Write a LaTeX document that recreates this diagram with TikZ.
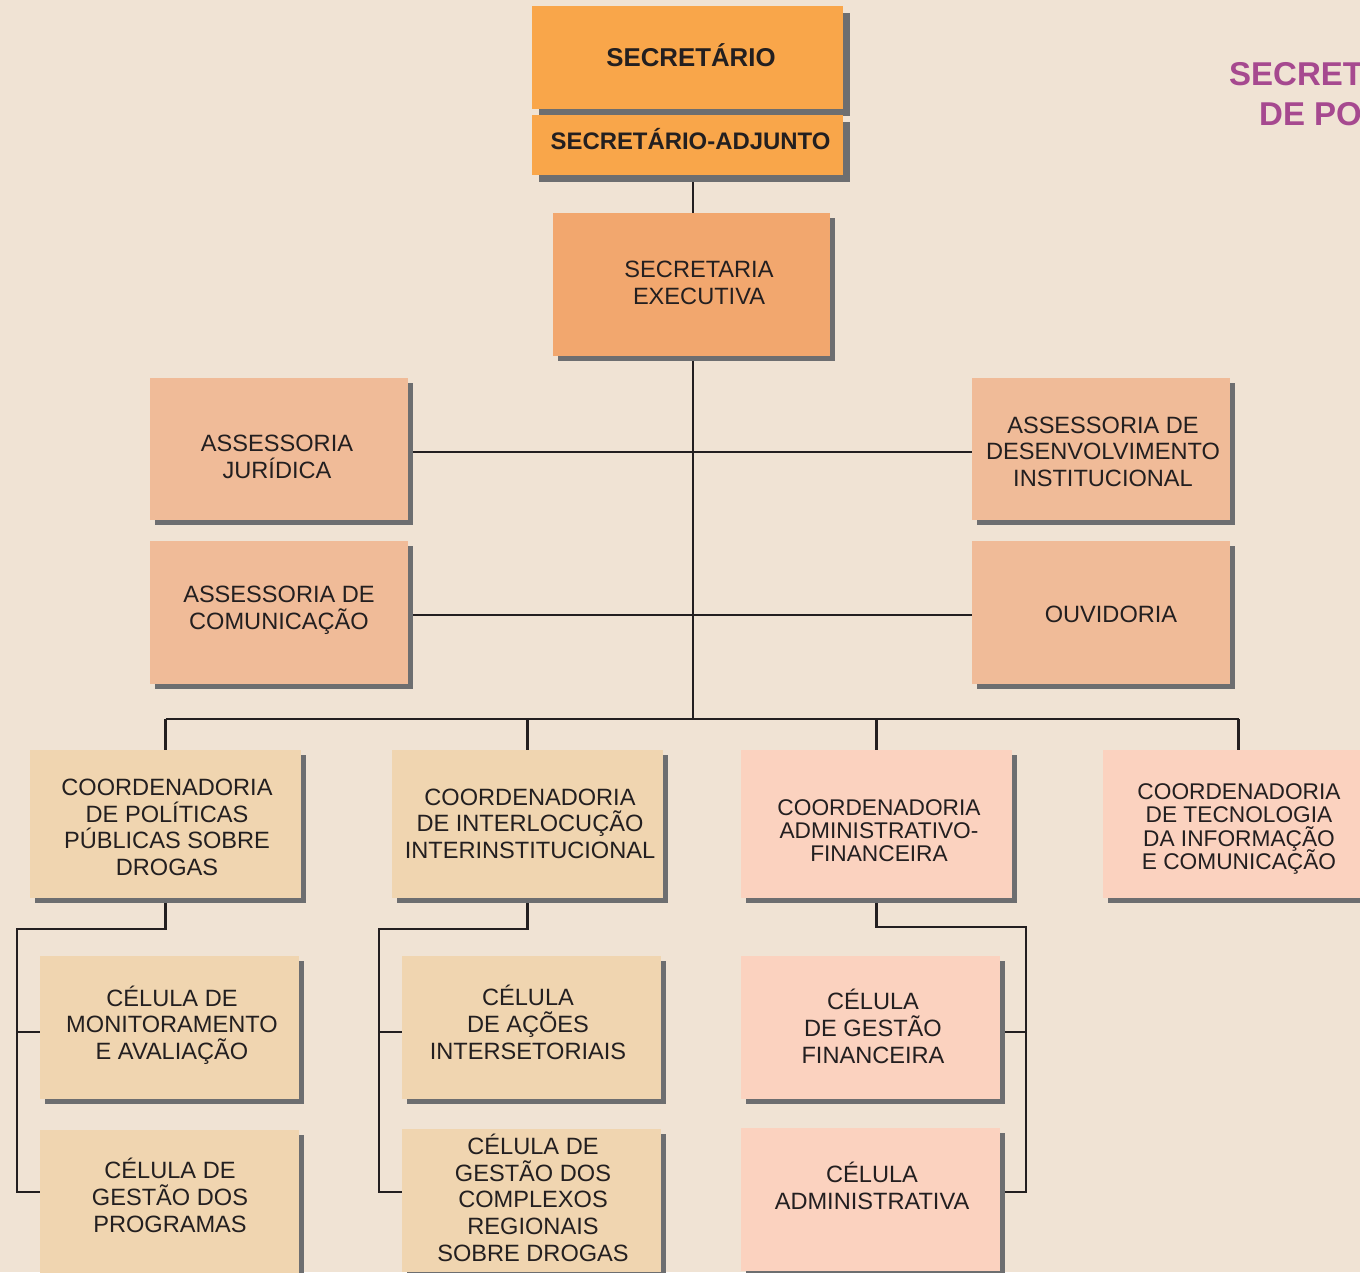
\documentclass[tikz,border=0pt]{standalone}
\usepackage{fontspec}
\setmainfont{Liberation Sans}
\usetikzlibrary{shadows,backgrounds}
\definecolor{bgc}{HTML}{F0E3D4}
\definecolor{topc}{HTML}{F9A64A}
\definecolor{execc}{HTML}{F2A76E}
\definecolor{assc}{HTML}{F0BB98}
\definecolor{beigec}{HTML}{F0D5B0}
\definecolor{pinkc}{HTML}{FBD2BF}
\definecolor{shadec}{HTML}{6D6E70}
\definecolor{linec}{HTML}{231F20}
\definecolor{purplec}{HTML}{A6498F}
\definecolor{textc}{HTML}{231F20}
\newcommand\topst{\rule{0pt}{1.016em}}
\newcommand\botst{\rule[-0.3em]{0pt}{0.3em}}
\newcommand\regfont{\fontsize{23.6}{26.7}\selectfont\lineskiplimit-100pt\relax}
\newcommand\tightfont{\fontsize{22.7}{23.3}\selectfont\lineskiplimit-100pt\relax}
\begin{document}
\begin{tikzpicture}[x=1pt,y=-1pt,
  orgbox/.style={rectangle, inner sep=0pt, anchor=north west, draw=none,
     general shadow={fill=shadec, shadow xshift=5pt, shadow yshift=-5pt}},
  bigshadow/.style={general shadow={fill=shadec, shadow xshift=7pt, shadow yshift=-7pt}},
  regsize/.style={minimum width=258pt, minimum height=143pt},
  coordsize/.style={minimum width=271pt, minimum height=148pt},
  cellsize/.style={minimum width=259pt, minimum height=143pt},
  txt/.style={font=\regfont, align=center, text=textc, inner sep=0pt},
  tighttxt/.style={font=\tightfont, align=center, text=textc, inner sep=0pt},
  boldtxt/.style={align=center, text=textc, inner sep=0pt},
  conn/.style={draw=linec, line width=2.7pt}
]
\useasboundingbox (0,0) rectangle (1360,1272);
\clip (0,0) rectangle (1360,1272);

% top boxes
\node[rectangle, inner sep=0pt, anchor=north west, bigshadow, fill=topc, minimum width=311pt, minimum height=103pt] (sec) at (532,6) {};
\node[rectangle, inner sep=0pt, anchor=north west, bigshadow, fill=topc, minimum width=311pt, minimum height=60pt] (adj) at (532,115) {};
\node[boldtxt, font=\bfseries\fontsize{25.8}{28}\selectfont] (tsec) at (691,57) {\topst SECRETÁRIO\botst};
\node[boldtxt, font=\bfseries\fontsize{23.9}{27}\selectfont] (tadj) at (690.5,141) {\topst SECRETÁRIO-ADJUNTO\botst};

\node[orgbox, fill=execc, minimum width=277pt, minimum height=143pt] (exec) at (553,213) {};
\node[txt] (texec) at (699,282.5) {\topst SECRETARIA\\EXECUTIVA\botst};

% assessorias
\node[orgbox, regsize, fill=assc, minimum height=142pt] (jur) at (150,378) {};
\node[txt] (tjur) at (277,456.5) {\topst ASSESSORIA\\JURÍDICA\botst};
\node[orgbox, regsize, fill=assc] (com) at (150,541) {};
\node[txt] (tcom) at (279,607.5) {\topst ASSESSORIA DE\\COMUNICAÇÃO\botst};
\node[orgbox, regsize, fill=assc, minimum height=142pt] (dev) at (972,378) {};
\node[txt] (tdev) at (1103,451.5) {\topst ASSESSORIA DE\\DESENVOLVIMENTO\\INSTITUCIONAL\botst};
\node[orgbox, regsize, fill=assc] (ouv) at (972,541) {};
\node[txt] (touv) at (1111,614) {\topst OUVIDORIA\botst};

% coordenadorias
\node[orgbox, coordsize, fill=beigec] (c1) at (30,750) {};
\node[txt] (tc1) at (167,827) {\topst COORDENADORIA\\DE POLÍTICAS\\PÚBLICAS SOBRE\\DROGAS\botst};
\node[orgbox, coordsize, fill=beigec] (c2) at (392,750) {};
\node[txt] (tc2) at (530,823.5) {\topst COORDENADORIA\\DE INTERLOCUÇÃO\\INTERINSTITUCIONAL\botst};
\node[orgbox, coordsize, fill=pinkc] (c3) at (741,750) {};
\node[tighttxt] (tc3) at (879,830.5) {\topst COORDENADORIA\\ADMINISTRATIVO-\\FINANCEIRA\botst};
\node[orgbox, coordsize, fill=pinkc] (c4) at (1103,750) {};
\node[tighttxt] (tc4) at (1239,826.5) {\topst COORDENADORIA\\DE TECNOLOGIA\\DA INFORMAÇÃO\\E COMUNICAÇÃO\botst};

% células
\node[orgbox, cellsize, fill=beigec] (m1) at (40,956) {};
\node[txt] (tm1) at (172,1024.5) {\topst CÉLULA DE\\MONITORAMENTO\\E AVALIAÇÃO\botst};
\node[orgbox, cellsize, fill=beigec] (p1) at (40,1130) {};
\node[txt] (tp1) at (170,1197) {\topst CÉLULA DE\\GESTÃO DOS\\PROGRAMAS\botst};
\node[orgbox, cellsize, fill=beigec] (a2) at (402,956) {};
\node[txt] (ta2) at (528,1024) {\topst CÉLULA\\DE AÇÕES\\INTERSETORIAIS\botst};
\node[orgbox, cellsize, fill=beigec] (x2) at (402,1129) {};
\node[txt] (tx2) at (533,1199.5) {\topst CÉLULA DE\\GESTÃO DOS\\COMPLEXOS\\REGIONAIS\\SOBRE DROGAS\botst};
\node[orgbox, cellsize, fill=pinkc] (f3) at (741,956) {};
\node[txt] (tf3) at (873,1028) {\topst CÉLULA\\DE GESTÃO\\FINANCEIRA\botst};
\node[orgbox, cellsize, fill=pinkc] (ad3) at (741,1128) {};
\node[txt] (tad3) at (872,1187.5) {\topst CÉLULA\\ADMINISTRATIVA\botst};

% title (cut at the edge, as in the reference)
\node[anchor=base west, inner sep=0pt, text=purplec, font=\bfseries\fontsize{33}{40}\selectfont] (ttl1) at (1229,85) {SECRETARIA};
\node[anchor=base west, inner sep=0pt, text=purplec, font=\bfseries\fontsize{33}{40}\selectfont] (ttl2) at (1259,125) {DE POLÍTICAS};

% connector coordinates
\coordinate (spine) at (693,0);
\coordinate (hub) at (693,719);
\coordinate (k1) at (17,929);
\coordinate (k1a) at (17,1032);
\coordinate (k1b) at (17,1192);
\coordinate (k2) at (379,929);
\coordinate (k2a) at (379,1032);
\coordinate (k2b) at (379,1192);
\coordinate (k3) at (1026,927);
\coordinate (k3a) at (1026,1032);
\coordinate (k3b) at (1026,1192);
\coordinate (rowa) at (0,452);
\coordinate (rowb) at (0,615);

\begin{scope}[on background layer]
  \fill[bgc] (0,0) rectangle (1360,1272);
  \draw[conn] (adj.south -| spine) -- (exec.north -| spine);
  \draw[conn] (exec.south -| spine) -- (hub);
  \draw[conn] (jur.east |- rowa) -- (dev.west |- rowa);
  \draw[conn] (com.east |- rowb) -- (ouv.west |- rowb);
  \draw[conn] (c1.north |- hub) -- (c4.north |- hub);
  \draw[conn] (c1.north |- hub) -- (c1.north);
  \draw[conn] (c2.north |- hub) -- (c2.north);
  \draw[conn] (c3.north |- hub) -- (c3.north);
  \draw[conn] (c4.north |- hub) -- (c4.north);
  % coordenadoria 1
  \draw[conn] (c1.south) |- (k1) -- (k1b) -- (k1b -| p1.west);
  \draw[conn] (k1a) -- (k1a -| m1.west);
  % coordenadoria 2
  \draw[conn] (c2.south) |- (k2) -- (k2b) -- (k2b -| x2.west);
  \draw[conn] (k2a) -- (k2a -| a2.west);
  % coordenadoria 3
  \draw[conn] (c3.south) |- (k3) -- (k3b) -- (k3b -| ad3.east);
  \draw[conn] (k3a) -- (k3a -| f3.east);
\end{scope}
\end{tikzpicture}
\end{document}
